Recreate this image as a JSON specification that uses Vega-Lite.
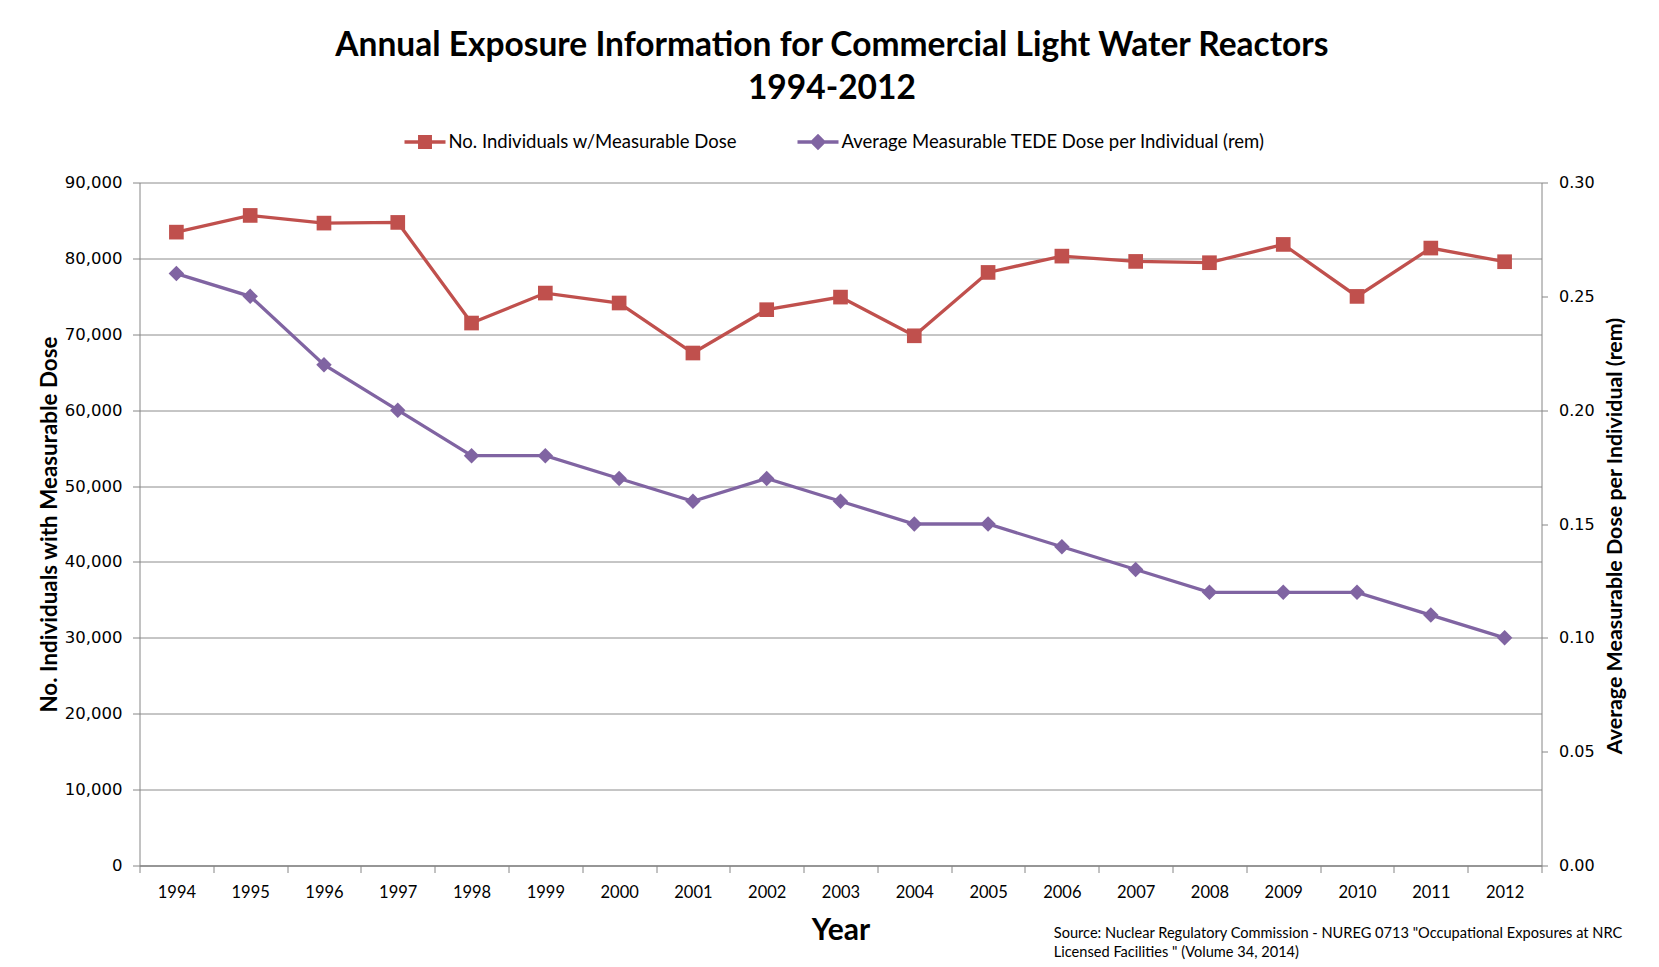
{
  "$schema": "https://vega.github.io/schema/vega-lite/v6.json",
  "background": "white",
  "padding": {"left": 37.5, "top": 28.5, "right": 20, "bottom": 5},
  "config": {
    "font": "Lato",
    "view": {"stroke": null},
    "axis": {
      "domainColor": "#868686",
      "tickColor": "#868686",
      "gridColor": "#8c8c8c",
      "labelColor": "#000000",
      "titleColor": "#000000"
    }
  },
  "title": {
    "text": ["Source: Nuclear Regulatory Commission - NUREG 0713 \"Occupational Exposures at NRC", "Licensed Facilities \" (Volume 34, 2014)"],
    "orient": "bottom",
    "anchor": "start",
    "align": "left",
    "font": "Lato",
    "fontSize": 14.6,
    "fontWeight": "normal",
    "color": "#000000",
    "lineHeight": 19,
    "dx": 1015.5,
    "offset": -19.5
  },
  "vconcat": [
    {
      "title": {
        "text": ["Annual Exposure Information for Commercial Light Water Reactors", "1994-2012"],
        "font": "Lato",
        "fontSize": 33.5,
        "fontWeight": "bold",
        "color": "#000000",
        "anchor": "middle",
        "frame": "bounds",
        "lineHeight": 43,
        "offset": 68
      },
      "width": 1402,
      "height": 683,
      "data": {
        "values": [
          {"year": "1994", "individuals": 83460, "dose": 0.26},
          {"year": "1995", "individuals": 85660, "dose": 0.25},
          {"year": "1996", "individuals": 84650, "dose": 0.22},
          {"year": "1997", "individuals": 84740, "dose": 0.20},
          {"year": "1998", "individuals": 71480, "dose": 0.18},
          {"year": "1999", "individuals": 75430, "dose": 0.18},
          {"year": "2000", "individuals": 74120, "dose": 0.17},
          {"year": "2001", "individuals": 67530, "dose": 0.16},
          {"year": "2002", "individuals": 73240, "dose": 0.17},
          {"year": "2003", "individuals": 74900, "dose": 0.16},
          {"year": "2004", "individuals": 69800, "dose": 0.15},
          {"year": "2005", "individuals": 78150, "dose": 0.15},
          {"year": "2006", "individuals": 80300, "dose": 0.14},
          {"year": "2007", "individuals": 79600, "dose": 0.13},
          {"year": "2008", "individuals": 79430, "dose": 0.12},
          {"year": "2009", "individuals": 81840, "dose": 0.12},
          {"year": "2010", "individuals": 74990, "dose": 0.12},
          {"year": "2011", "individuals": 81360, "dose": 0.11},
          {"year": "2012", "individuals": 79560, "dose": 0.10}
        ]
      },
      "encoding": {
        "x": {
          "field": "year",
          "type": "ordinal",
          "scale": {"type": "band", "paddingInner": 0, "paddingOuter": 0},
          "axis": {
            "title": "Year",
            "titleFontSize": 30,
            "titleFontWeight": "bold",
            "titlePadding": 14,
            "labelAngle": 0,
            "labelFontSize": 16.5,
            "labelPadding": 12,
            "tickBand": "extent",
            "tickSize": 7,
            "domainWidth": 1.5,
            "grid": false
          }
        }
      },
      "layer": [
        {
          "layer": [
            {
              "mark": {"type": "line", "color": "#C0504D", "strokeWidth": 3.3},
              "encoding": {
                "y": {
                  "field": "individuals",
                  "type": "quantitative",
                  "scale": {"domain": [0, 90000]},
                  "axis": {
                    "orient": "left",
                    "title": "No. Individuals with Measurable Dose",
                    "titleFontSize": 22.4,
                    "titleFontWeight": "bold",
                    "titlePadding": 3,
                    "values": [0, 10000, 20000, 30000, 40000, 50000, 60000, 70000, 80000, 90000],
                    "format": ",d",
                    "labelFont": "DejaVu Sans",
                    "labelFontSize": 16.5,
                    "labelPadding": 10.5,
                    "tickSize": 7,
                    "grid": true,
                    "gridWidth": 1
                  }
                }
              }
            },
            {
              "mark": {"type": "point", "shape": "square", "filled": true, "size": 215, "opacity": 1},
              "encoding": {
                "y": {"field": "individuals", "type": "quantitative"},
                "color": {
                  "datum": "No. Individuals w/Measurable Dose",
                  "type": "nominal",
                  "scale": {
                    "domain": ["No. Individuals w/Measurable Dose", "Average Measurable TEDE Dose per Individual (rem)"],
                    "range": ["#C0504D", "#8064A2"]
                  },
                  "legend": {
                    "title": null,
                    "orient": "none",
                    "direction": "horizontal",
                    "legendX": 265,
                    "legendY": -61,
                    "padding": 0,
                    "labelFont": "Lato",
                    "labelFontSize": 18.5,
                    "labelLimit": 0,
                    "labelColor": "#000000",
                    "labelOffset": 3,
                    "columnPadding": 60,
                    "symbolSize": 1681,
                    "symbolStrokeWidth": 0,
                    "symbolOpacity": 1,
                    "encode": {
                      "symbols": {
                        "update": {
                          "shape": {"signal": "datum.value === 'No. Individuals w/Measurable Dose' ? 'M-1,-0.08H1V0.08H-1Z M-0.34,-0.34H0.34V0.34H-0.34Z' : 'M-1,-0.08H1V0.08H-1Z M0,-0.4L0.4,0L0,0.4L-0.4,0Z'"}
                        }
                      }
                    }
                  }
                }
              }
            }
          ]
        },
        {
          "layer": [
            {
              "mark": {"type": "line", "color": "#8064A2", "strokeWidth": 3.3},
              "encoding": {
                "y": {
                  "field": "dose",
                  "type": "quantitative",
                  "scale": {"domain": [0, 0.3]},
                  "axis": {
                    "orient": "right",
                    "title": "Average Measurable Dose per Individual (rem)",
                    "titleFontSize": 21.4,
                    "titleFontWeight": "bold",
                    "titleAngle": 270,
                    "titleBaseline": "top",
                    "titleY": 353,
                    "titlePadding": 10,
                    "values": [0, 0.05, 0.1, 0.15, 0.2, 0.25, 0.3],
                    "format": ".2f",
                    "labelFont": "DejaVu Sans",
                    "labelFontSize": 16,
                    "labelPadding": 11,
                    "tickSize": 6,
                    "grid": false
                  }
                }
              }
            },
            {
              "mark": {"type": "point", "shape": "diamond", "filled": true, "size": 240, "opacity": 1},
              "encoding": {
                "y": {"field": "dose", "type": "quantitative"},
                "color": {"datum": "Average Measurable TEDE Dose per Individual (rem)", "type": "nominal"}
              }
            }
          ]
        }
      ],
      "resolve": {"scale": {"y": "independent"}}
    }
  ]
}
